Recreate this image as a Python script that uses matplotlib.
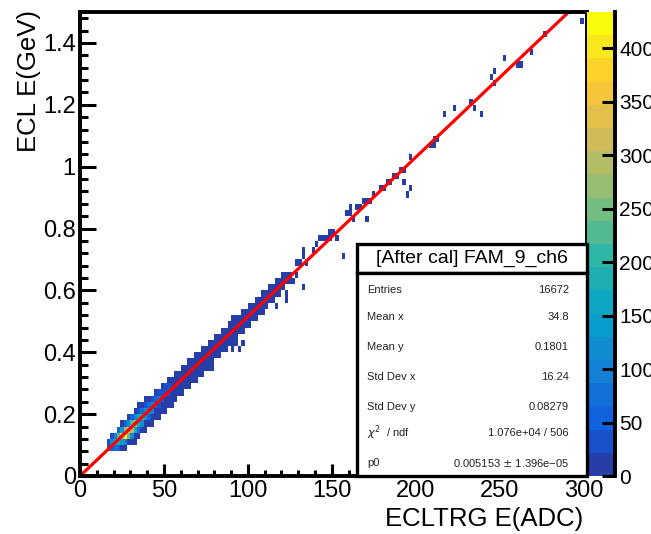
import numpy as np
import matplotlib
matplotlib.use("Agg")
import matplotlib.pyplot as plt
from matplotlib.colors import LinearSegmentedColormap, ListedColormap, BoundaryNorm
from matplotlib.patches import Rectangle
from matplotlib.ticker import MultipleLocator

plt.rcParams['font.family'] = ['Liberation Sans', 'DejaVu Sans']

# ---------------- data ----------------
X_RANGE = (0, 302)
Y_RANGE = (0, 1.5)
X_BIN = 2
Y_NBINS = 75
Z_MAX = 434
N_LEVELS = 20

# main band: x-bin left edge, lowest / highest y edge of filled cells
band_x = [16, 18, 20, 22, 24, 26, 28, 30, 32, 34, 36, 38, 40, 42, 44, 46, 48, 50,
          52, 54, 56, 58, 60, 62, 64, 66, 68, 70, 72, 74, 76, 78, 80, 82, 84, 86,
          88, 90, 92, 94, 96, 98, 100, 102, 104, 106, 108, 110, 112, 114, 116,
          118, 120, 122, 124]
band_lo = [0.08, 0.08, 0.08, 0.08, 0.08, 0.08, 0.10, 0.10, 0.10, 0.12, 0.14, 0.14,
           0.16, 0.16, 0.18, 0.18, 0.20, 0.20, 0.22, 0.22, 0.24, 0.26, 0.26, 0.28,
           0.28, 0.30, 0.30, 0.32, 0.32, 0.34, 0.34, 0.36, 0.38, 0.38, 0.40, 0.40,
           0.42, 0.42, 0.44, 0.46, 0.46, 0.48, 0.48, 0.50, 0.50, 0.52, 0.52, 0.54,
           0.56, 0.56, 0.58, 0.58, 0.60, 0.62, 0.62]
band_hi = [0.12, 0.14, 0.14, 0.16, 0.18, 0.18, 0.20, 0.20, 0.22, 0.24, 0.24, 0.26,
           0.26, 0.26, 0.28, 0.28, 0.30, 0.30, 0.32, 0.32, 0.34, 0.34, 0.36, 0.36,
           0.38, 0.38, 0.40, 0.40, 0.42, 0.42, 0.44, 0.44, 0.46, 0.46, 0.48, 0.48,
           0.50, 0.52, 0.52, 0.52, 0.54, 0.54, 0.56, 0.56, 0.58, 0.58, 0.60, 0.60,
           0.62, 0.62, 0.64, 0.64, 0.66, 0.66, 0.66]
band_count = 8

# sparse single cells (ADC, GeV)
sparse_x = [77, 79, 91, 93, 95, 97, 117, 123, 123, 127, 129, 132, 129, 131, 133, 133,
            135, 139, 141, 143, 145, 147, 149, 149, 151, 153, 157, 159, 161, 161, 163,
            165, 167, 169, 171, 171, 173, 175, 179, 181, 183, 185, 187, 189, 191, 193,
            193, 195, 197, 197, 209, 211, 211, 213, 217, 223, 233, 235, 239, 245, 247,
            247, 253, 261, 263, 269, 277, 299]
sparse_y = [0.35, 0.35, 0.41, 0.43, 0.41, 0.43, 0.55, 0.57, 0.59, 0.63, 0.65, 0.61,
            0.69, 0.69, 0.71, 0.73, 0.69, 0.73, 0.75, 0.77, 0.77, 0.77, 0.77, 0.79,
            0.79, 0.77, 0.71, 0.85, 0.85, 0.87, 0.83, 0.87, 0.87, 0.89, 0.89, 0.83,
            0.89, 0.91, 0.93, 0.93, 0.95, 0.95, 0.97, 0.97, 0.99, 0.99, 0.95, 0.91,
            0.93, 1.03, 1.07, 1.07, 1.09, 1.09, 1.17, 1.19, 1.21, 1.19, 1.17, 1.29,
            1.31, 1.27, 1.35, 1.33, 1.33, 1.37, 1.43, 1.47]
sparse_count = 5

# dense core cells (ADC, GeV, entries)
hot_x = [17, 17, 19, 19, 19, 21, 21, 21, 23, 23, 23, 23, 25, 25, 25, 27, 27, 27, 27,
         29, 29, 29, 31, 31, 31, 31, 33, 33, 33, 35, 35, 35, 35, 37, 37, 37, 39, 39,
         39, 41, 41, 41, 43, 43, 43, 45, 45, 47, 47, 47, 49, 49, 51, 51, 53, 53]
hot_y = [0.09, 0.11, 0.09, 0.11, 0.13, 0.09, 0.11, 0.13, 0.09, 0.11, 0.13, 0.15,
         0.11, 0.13, 0.15, 0.11, 0.13, 0.15, 0.17, 0.13, 0.15, 0.17, 0.13, 0.15,
         0.17, 0.19, 0.15, 0.17, 0.19, 0.15, 0.17, 0.19, 0.21, 0.17, 0.19, 0.21,
         0.19, 0.21, 0.23, 0.19, 0.21, 0.23, 0.21, 0.23, 0.25, 0.23, 0.25, 0.23,
         0.25, 0.27, 0.25, 0.27, 0.27, 0.29, 0.27, 0.29]
hot_n = [30, 40, 60, 110, 40, 80, 170, 90, 50, 190, 230, 60, 140, 330, 150, 90, 410,
         270, 60, 250, 360, 120, 130, 300, 230, 50, 170, 270, 110, 80, 190, 170, 40,
         110, 180, 80, 140, 120, 30, 60, 130, 70, 90, 100, 30, 80, 60, 40, 70, 30,
         50, 40, 40, 25, 30, 30]

# fit: pol1 through origin
fit_p0 = 0.005153
fit_x = [0, 300]

x_ticks = [0, 50, 100, 150, 200, 250, 300]
y_ticks = [0, 0.2, 0.4, 0.6, 0.8, 1.0, 1.2, 1.4]
y_tick_labels = ["0", "0.2", "0.4", "0.6", "0.8", "1", "1.2", "1.4"]
z_ticks = [0, 50, 100, 150, 200, 250, 300, 350, 400]

stats_title = "[After cal] FAM_9_ch6"
stats_labels = ["Entries", "Mean x", "Mean y", "Std Dev x", "Std Dev y",
                r"$\chi^{2}$  / ndf", "p0"]
stats_values = ["16672", "34.8", "0.1801", "16.24", "0.08279",
                "1.076e+04 / 506", "0.005153 $\\pm$ 1.396e\u221205"]

# ---------------- build histogram grid ----------------
xe = np.arange(X_RANGE[0], X_RANGE[1] + X_BIN, X_BIN)
ye = np.linspace(Y_RANGE[0], Y_RANGE[1], Y_NBINS + 1)
Z = np.zeros((len(ye) - 1, len(xe) - 1))


def put(x, y, n):
    j = np.searchsorted(xe, x, side='right') - 1
    i = np.searchsorted(ye, y, side='right') - 1
    if 0 <= i < Z.shape[0] and 0 <= j < Z.shape[1]:
        Z[i, j] = n


for x0, lo, hi in zip(band_x, band_lo, band_hi):
    for yc in np.arange(lo + 0.01, hi, 0.02):
        put(x0 + 1, yc, band_count)
for x, y in zip(sparse_x, sparse_y):
    put(x, y, sparse_count)
for x, y, n in zip(hot_x, hot_y, hot_n):
    put(x, y, n)

Zm = np.ma.masked_equal(Z, 0)

# ROOT kBird palette, 20 contour levels
stops = [0.0, 0.125, 0.25, 0.375, 0.5, 0.625, 0.75, 0.875, 1.0]
red = [0.2082, 0.0592, 0.0780, 0.0232, 0.1802, 0.5301, 0.8186, 0.9956, 0.9764]
green = [0.1664, 0.3599, 0.5041, 0.6419, 0.7178, 0.7492, 0.7328, 0.7862, 0.9832]
blue = [0.5293, 0.8684, 0.8385, 0.7914, 0.6425, 0.4662, 0.3499, 0.1968, 0.0539]
grad = LinearSegmentedColormap.from_list(
    'bird', list(zip(stops, zip(red, green, blue))), N=255)
level_colors = [grad(int((i + 0.99) * 255 / N_LEVELS)) for i in range(N_LEVELS)]
cmap = ListedColormap(level_colors)
levels = np.linspace(0, Z_MAX, N_LEVELS + 1)
norm = BoundaryNorm(levels, N_LEVELS)

# ---------------- figure ----------------
W, H = 651, 534
fig = plt.figure(figsize=(W / 100, H / 100), dpi=100)


def fx(px):
    return px / W


def fy(py):
    return (H - py) / H


ax = fig.add_axes([fx(80), fy(476), fx(587) - fx(80), fy(12) - fy(476)])
mesh = ax.pcolormesh(xe, ye, Zm, cmap=cmap, norm=norm, zorder=1)
fxs = np.array(fit_x, dtype=float)
ax.plot(fxs, fit_p0 * fxs, color='#ff0000', lw=2.3, zorder=2, solid_capstyle='butt')

ax.set_xlim(*X_RANGE)
ax.set_ylim(*Y_RANGE)
ax.set_xticks(x_ticks)
ax.set_xticklabels([str(t) for t in x_ticks])
ax.set_yticks(y_ticks)
ax.set_yticklabels(y_tick_labels)
ax.xaxis.set_minor_locator(MultipleLocator(10))
ax.yaxis.set_minor_locator(MultipleLocator(0.04))
ax.tick_params(which='both', direction='in', top=False, right=False, width=2.2,
               color='black')
ax.tick_params(axis='y', which='major', length=11.5, labelsize=17, pad=3)
ax.tick_params(axis='y', which='minor', length=5.8)
ax.tick_params(axis='x', which='major', length=8.6, labelsize=17, pad=3)
ax.tick_params(axis='x', which='minor', length=4.5)
for s in ax.spines.values():
    s.set_linewidth(2.8)
    s.set_zorder(5)

ax.text(-0.1, 1.004, "ECL E(GeV)", transform=ax.transAxes, rotation=90,
        rotation_mode='anchor', ha='right', va='center', fontsize=18.5)
ax.text(0.993, -0.093, "ECLTRG E(ADC)", transform=ax.transAxes,
        ha='right', va='center', fontsize=18.5)

# colour bar
cax = fig.add_axes([fx(587), fy(476), fx(615) - fx(587), fy(12) - fy(476)])
cb = fig.colorbar(mesh, cax=cax, ticks=z_ticks, boundaries=levels)
cb.outline.set_visible(False)
cb.minorticks_off()
cax.yaxis.set_ticks_position('right')
cax.tick_params(direction='in', length=9.4, width=2.2, labelsize=15, pad=3)
cax.plot([1, 1], [0, 1], transform=cax.transAxes, color='black', lw=2.8,
         clip_on=False, zorder=5)

# stats box
x0, x1 = fx(357), fx(587)
title_top, title_bot, body_bot = fy(244), fy(273), fy(476)
fig.add_artist(Rectangle((x0, title_bot), x1 - x0, title_top - title_bot,
                         transform=fig.transFigure, facecolor='white',
                         edgecolor='black', lw=2.4, zorder=10))
fig.add_artist(Rectangle((x0, body_bot), x1 - x0, title_bot - body_bot,
                         transform=fig.transFigure, facecolor='white',
                         edgecolor='black', lw=2.4, zorder=10))
fig.text((x0 + x1) / 2, fy(258.5), stats_title, ha='center', va='center',
         fontsize=14, zorder=11)
row_y = [290, 317, 347, 377, 407, 433, 463]
for lab, val, ry in zip(stats_labels, stats_values, row_y):
    fig.text(fx(367), fy(ry), lab, ha='left', va='center', fontsize=8,
             color='#222222', zorder=11)
    fig.text(fx(569), fy(ry), val, ha='right', va='center', fontsize=8,
             color='#222222', zorder=11)

fig.savefig("out.png", dpi=100)
